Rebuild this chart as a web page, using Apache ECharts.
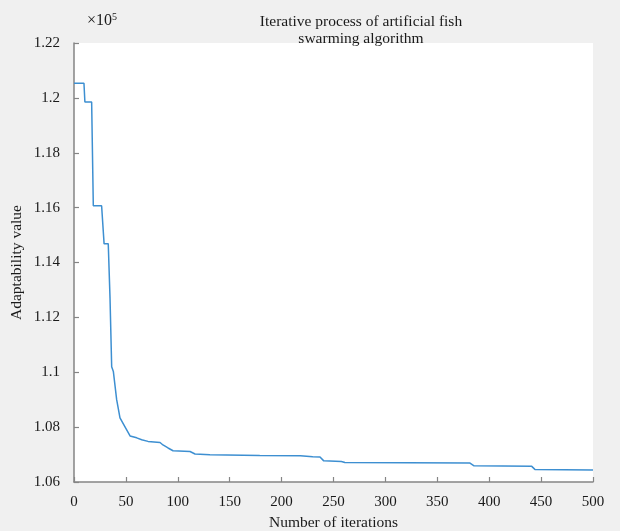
<!DOCTYPE html>
<html>
<head>
<meta charset="utf-8">
<script src="https://cdn.jsdelivr.net/npm/echarts@6/dist/echarts.min.js"></script>
<style>
html,body{margin:0;padding:0;background:#f0f0f0;}
#chart{width:620px;height:531px;}
</style>
</head>
<body>
<div id="chart"></div>
<script>
// Iteration numbers and fitness (adaptability) values
const iterations = [0, 9.6, 10.5, 17, 18.6, 26.6, 29, 33, 34.7, 36.3, 37.9, 41.1, 44.3, 49, 54, 60.4, 65.2, 71.3, 82.9, 85.7, 90.6, 95.4, 111.8, 116.6, 131, 179, 218, 230, 237, 240.6, 257.6, 261, 381.5, 385.4, 441, 444, 500];
const fitness = [120530, 120530, 119850, 119850, 116070, 116070, 114680, 114680, 112710, 110200, 110030, 109000, 108340, 108020, 107680, 107610, 107540, 107480, 107440, 107350, 107240, 107140, 107110, 107020, 106990, 106970, 106960, 106920, 106910, 106770, 106750, 106710, 106690, 106590, 106570, 106460, 106440];
const xTicks = [0, 50, 100, 150, 200, 250, 300, 350, 400, 450, 500];
const yTicks = [106000, 108000, 110000, 112000, 114000, 116000, 118000, 120000, 122000];
const titleText = 'Iterative process of artificial fish\nswarming algorithm';
const xName = 'Number of iterations';
const yName = 'Adaptability value';

const serif = '"Liberation Serif", "Times New Roman", serif';
const chart = echarts.init(document.getElementById('chart'), null, {renderer: 'canvas'});
const axisColor = '#858585';
const txt = '#1a1a1a';
chart.setOption({
  backgroundColor: '#f0f0f0',
  animation: false,
  title: {
    text: titleText,
    left: 356,
    top: 8,
    textAlign: 'center',
    textStyle: {fontFamily: serif, fontSize: 15.5, fontWeight: 'normal', color: txt, lineHeight: 17}
  },
  graphic: [{
    type: 'text',
    left: 87,
    top: 12,
    style: {
      text: '×10{s|5}',
      rich: {s: {fontSize: 10, verticalAlign: 'top', padding: [0, 0, 7, 0], fontFamily: serif, fill: txt}},
      font: '16px ' + serif,
      fill: txt
    }
  }],
  grid: {left: 74, right: 27, top: 43, bottom: 49, show: true, backgroundColor: '#ffffff', borderWidth: 0,
    containLabel: false, outerBoundsMode: 'none'},
  xAxis: {
    type: 'value',
    min: xTicks[0], max: xTicks[xTicks.length - 1], interval: 50,
    name: xName, nameLocation: 'middle', nameGap: 33, nameMoveOverlap: false,
    nameTextStyle: {fontFamily: serif, fontSize: 15.5, color: txt},
    axisLine: {show: true, lineStyle: {color: axisColor, width: 1.5}},
    axisTick: {show: true, inside: true, length: 5, lineStyle: {color: axisColor, width: 1.2}},
    axisLabel: {fontFamily: serif, fontSize: 15, color: txt, margin: 13},
    splitLine: {show: false}
  },
  yAxis: {
    type: 'value',
    min: yTicks[0], max: yTicks[yTicks.length - 1], interval: 2000,
    name: yName, nameLocation: 'middle', nameGap: 49, nameRotate: 90, nameMoveOverlap: false,
    nameTextStyle: {fontFamily: serif, fontSize: 15.5, color: txt},
    axisLine: {show: true, lineStyle: {color: axisColor, width: 1.5}},
    axisTick: {show: true, inside: true, length: 5, lineStyle: {color: axisColor, width: 1.2}},
    axisLabel: {fontFamily: serif, fontSize: 15, color: txt, margin: 14,
      formatter: v => String(+(v / 1e5).toFixed(2))},
    splitLine: {show: false}
  },
  series: [{
    type: 'line',
    data: iterations.map((x, i) => [x, fitness[i]]),
    showSymbol: false,
    lineStyle: {color: '#3d8fd1', width: 1.5},
    itemStyle: {color: '#3d8fd1'}
  }]
});
</script>
</body>
</html>
